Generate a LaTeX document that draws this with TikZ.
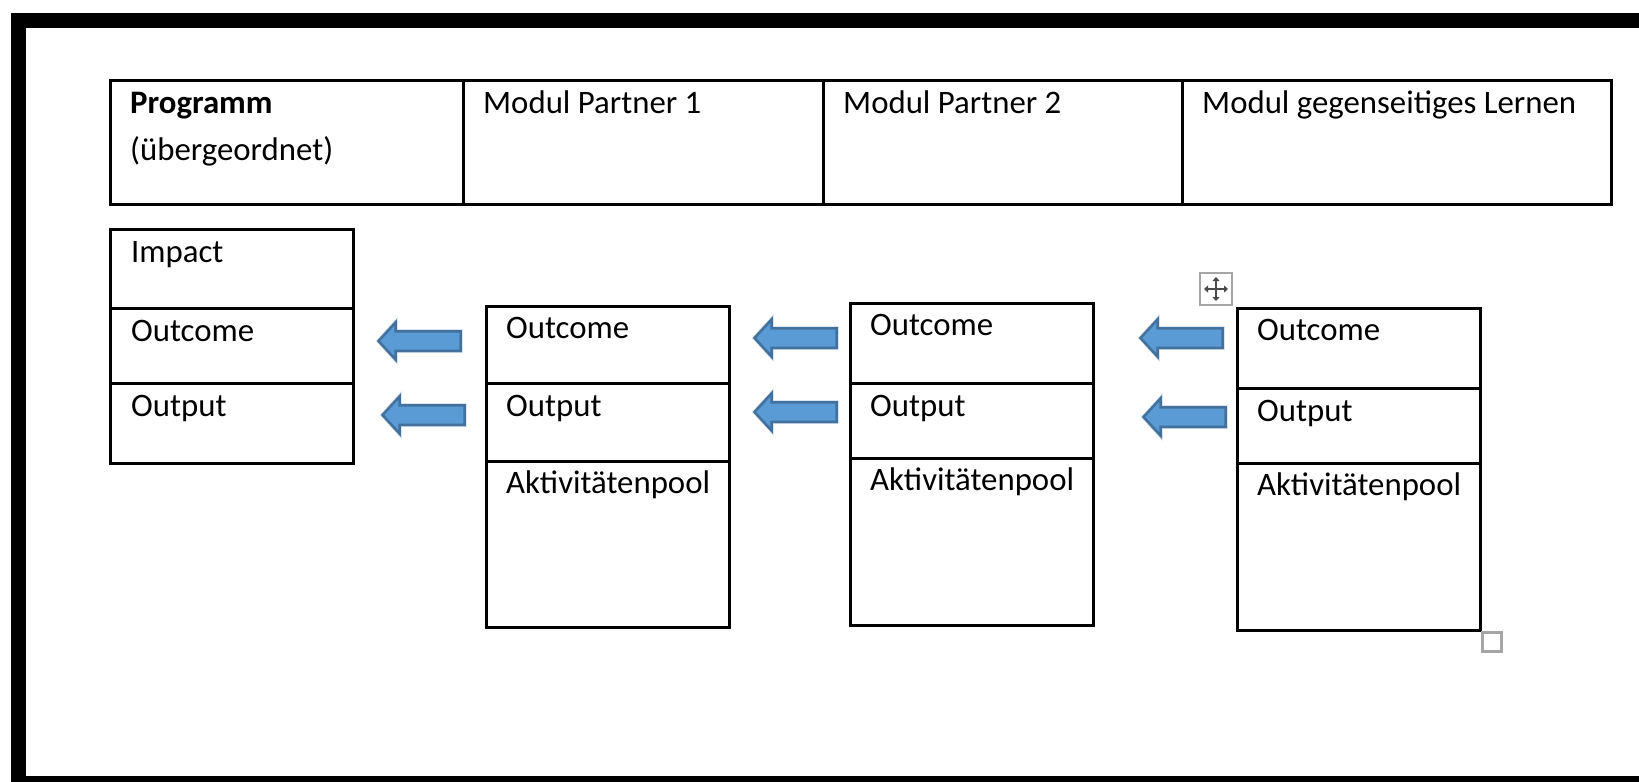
\documentclass[tikz,border=0pt]{standalone}
\usepackage{fontspec}
\setmainfont{Carlito}
\usetikzlibrary{arrows.meta,positioning,shapes.arrows}
\definecolor{arrow_blue}{RGB}{91,155,213}
\definecolor{arrow_dark}{RGB}{65,113,156}
\definecolor{arrow_glow}{RGB}{200,214,232}
\definecolor{handle_gray}{RGB}{166,166,166}
\definecolor{icon_gray}{RGB}{75,75,75}

\begin{document}
\begin{tikzpicture}[
      x=1pt, y=-1pt,
      cell/.style={
         rectangle,
         draw=black,
         line width=3pt,
         inner sep=0pt,
         outer sep=0pt,
         anchor=north west},
      txt/.style={
         anchor=base west,
         inner sep=0pt,
         font=\fontsize{32.8}{47}\selectfont},
      blockarrow/.style={
         single arrow,
         shape border rotate=180,
         fill=arrow_blue,
         draw=arrow_dark,
         line width=2.5pt,
         inner xsep=0pt,
         inner ysep=8.5pt,
         outer sep=0pt,
         minimum width=36pt,
         minimum height=82pt,
         single arrow head extend=9pt,
         single arrow tip angle=95,
         preaction={draw=arrow_glow, line width=4pt}},
      handle/.style={
         rectangle,
         draw=handle_gray,
         fill=white,
         line width=2.5pt,
         inner sep=0pt},
      ]
      \useasboundingbox (0,0) rectangle (1639,782);
      \clip (0,0) rectangle (1639,782);
      % frame
      \draw[line width=15pt] (1700,20.5) -| (18,783.5) -- (1700,783.5);

      %%% header row
      \node[cell, minimum width=353, minimum height=124] (h1) at (110,80) {};
      \node[cell, minimum width=360, minimum height=124, right=0pt of h1] (h2) {};
      \node[cell, minimum width=359, minimum height=124, right=0pt of h2] (h3) {};
      \node[cell, minimum width=429, minimum height=124, right=0pt of h3] (h4) {};
      \node[txt, font=\fontsize{32.8}{47}\selectfont\bfseries] (t_prog) at ([shift={(20,33)}]h1.north west) {Programm};
      \node[txt, below=47pt of t_prog.base west, anchor=base west] (t_prog2) {(übergeordnet)};
      \node[txt] (t_h2) at ([shift={(20,33)}]h2.north west) {Modul Partner 1};
      \node[txt] (t_h3) at ([shift={(20,33)}]h3.north west) {Modul Partner 2};
      \node[txt] (t_h4) at ([shift={(20,33)}]h4.north west) {Modul gegenseitiges Lernen};

      %%% programm box
      \node[cell, minimum width=243, minimum height=79] (p_imp) at (110,229) {};
      \node[cell, minimum width=243, minimum height=75, below=0pt of p_imp] (p_oc) {};
      \node[cell, minimum width=243, minimum height=80, below=0pt of p_oc] (p_op) {};
      \node[txt] at ([shift={(21,33)}]p_imp.north west) {Impact};
      \node[txt] at ([shift={(21,33)}]p_oc.north west) {Outcome};
      \node[txt] at ([shift={(21,33)}]p_op.north west) {Output};

      %%% module boxes
      \foreach \m/\x/\y/\ha/\hb/\hc in {% name/left/top/heights
        m1/486/306/77/78/166,
        m2/850/303/80/75/167,
        m3/1237/308/80/75/167}
      {
        \node[cell, minimum width=243, minimum height=\ha] (\m_oc) at (\x,\y) {};
        \node[cell, minimum width=243, minimum height=\hb, below=0pt of \m_oc] (\m_op) {};
        \node[cell, minimum width=243, minimum height=\hc, below=0pt of \m_op] (\m_ak) {};
        \node[txt] at ([shift={(20,32)}]\m_oc.north west) {Outcome};
        \node[txt] at ([shift={(20,33)}]\m_op.north west) {Output};
        \node[txt] at ([shift={(20,32)}]\m_ak.north west) {Aktivitätenpool};
      }

      %%% block arrows
      \foreach \n/\x/\y in {%
        a1/424/341, a2/800/338, a3/1186/338,
        b1/428/415, b2/800/412, b3/1189/417}
        \node[blockarrow] (\n) at (\x,\y) {};

      % word handles
      \node[handle, minimum size=32pt] (move) at (1216,289) {};
      \draw[icon_gray, line width=2pt, {Triangle[length=4pt,width=7pt]}-{Triangle[length=4pt,width=7pt]}]
        ([xshift=-12pt]move.center) -- ([xshift=12pt]move.center);
      \draw[icon_gray, line width=2pt, {Triangle[length=4pt,width=7pt]}-{Triangle[length=4pt,width=7pt]}]
        ([yshift=12pt]move.center) -- ([yshift=-12pt]move.center);
      \node[handle, minimum size=19pt] (resize) at (1492,642) {};
\end{tikzpicture}
\end{document}
